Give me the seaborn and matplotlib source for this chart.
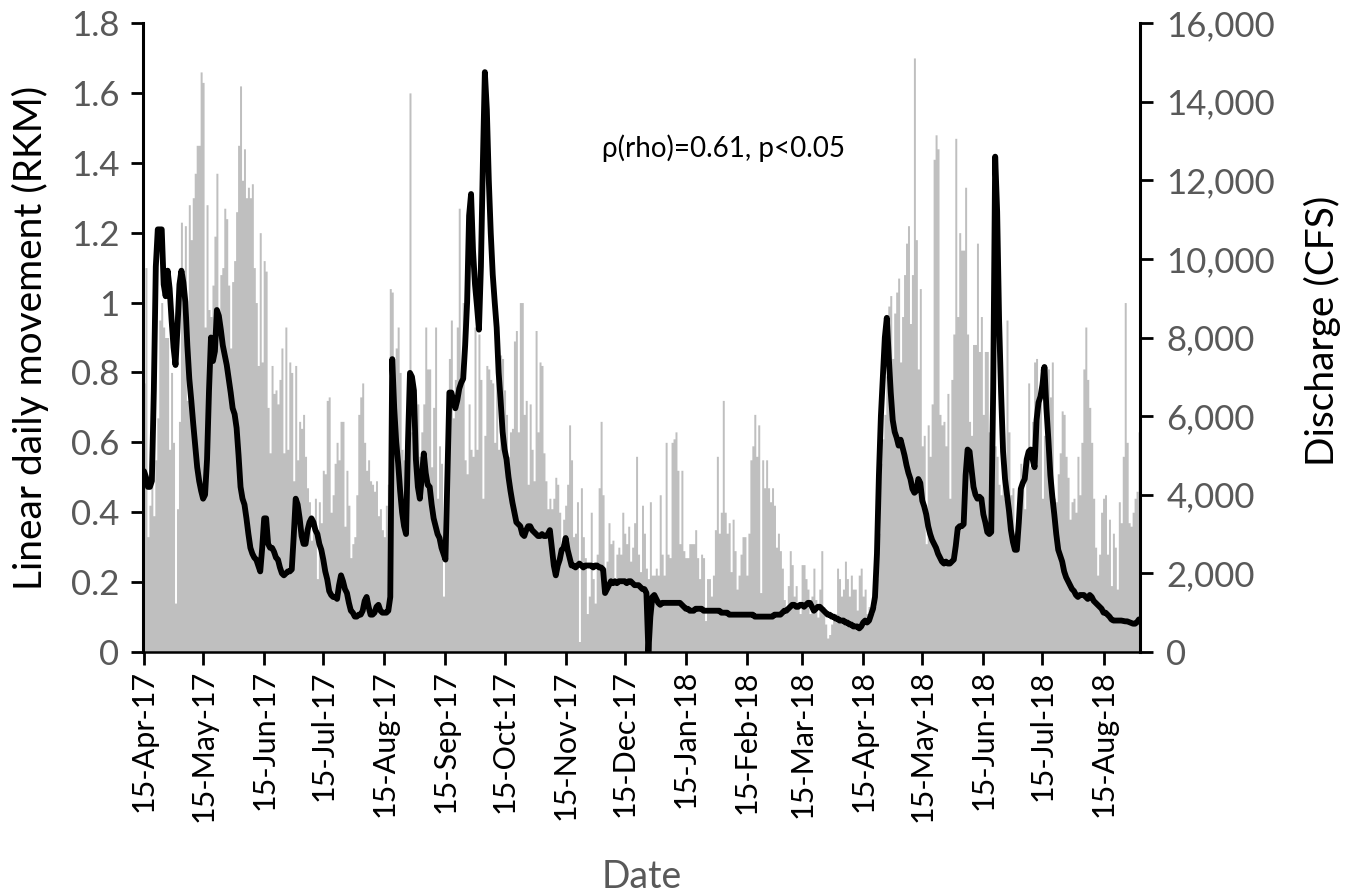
import numpy as np
import pandas as pd
import matplotlib
matplotlib.use("Agg")
import matplotlib.pyplot as plt
import seaborn as sns

START_DATE = "2017-04-15"

# Linear daily movement (RKM), one value per day from 15-Apr-17
movement_a = [0.77, 1.10, 0.33, 0.42, 0.72, 0.39, 0.55, 0.67, 0.95, 1.00,
              0.93, 0.90, 0.90, 0.58, 0.80, 0.60, 0.14, 0.41, 0.66, 1.23,
              1.00, 1.22, 0.72, 1.28, 1.18, 1.30, 1.37, 1.45, 1.45, 1.66,
              1.63, 0.93, 1.28, 0.98, 0.96, 1.05, 1.19, 1.37, 0.94, 1.08,
              1.10, 1.27, 1.24, 1.05, 0.87, 1.06, 1.12, 1.26, 1.45, 1.62,
              1.35, 1.44, 1.30, 1.33, 1.30, 1.34, 1.10, 1.00, 0.82, 1.20,
              0.83, 1.12, 1.09, 0.70, 0.57, 0.82, 0.74, 0.75, 0.71, 0.78,
              0.87, 0.57, 0.93, 0.58, 0.83, 0.80, 0.49, 0.82, 0.55, 0.66,
              0.64, 0.68, 0.56, 0.47, 0.43, 0.32, 0.38, 0.44, 0.21, 0.43,
              0.37, 0.52, 0.51, 0.72, 0.73, 0.40, 0.45, 0.54, 0.60, 0.55,
              0.66, 0.66, 0.36, 0.52, 0.42, 0.27, 0.31, 0.33, 0.45, 0.68,
              0.73, 0.77, 0.60, 0.52, 0.55, 0.49, 0.48, 0.46, 0.49, 0.39,
              0.41, 0.35, 0.33, 0.42, 0.48, 1.04]
movement_b = [1.03, 0.59, 0.87, 0.93, 0.80, 0.58, 0.55, 0.51, 0.46, 1.60,
              0.63, 0.56, 0.63, 0.71, 0.56, 0.63, 0.71, 0.93, 0.81, 0.81,
              0.53, 0.70, 0.93, 0.44, 0.59, 0.54, 0.16, 0.33, 0.65, 0.84,
              0.95, 0.67, 0.78, 0.93, 1.27, 0.78, 1.00, 0.55, 0.51, 0.71,
              0.58, 0.56, 0.93, 0.58, 0.91, 0.78, 0.44, 0.62, 0.82, 0.81,
              0.78, 0.77, 0.60, 0.81, 0.58, 0.85, 0.84, 0.75, 0.68, 0.56,
              0.63, 0.64, 0.89, 0.92, 0.63, 1.00, 1.00, 0.68, 0.72, 0.48,
              0.71, 0.58, 0.49, 0.92, 0.63, 0.83, 0.82, 0.57, 0.49, 0.41,
              0.44, 0.41, 0.44, 0.50, 0.48, 0.40, 0.31, 0.38, 0.42, 0.48,
              0.65, 0.55, 0.33, 0.34, 0.43, 0.03, 0.47, 0.33, 0.27, 0.11,
              0.16, 0.40, 0.21, 0.14, 0.28, 0.47, 0.66, 0.45, 0.24, 0.26,
              0.37, 0.31, 0.32, 0.21, 0.28, 0.30, 0.28, 0.40, 0.34, 0.31,
              0.36, 0.26, 0.30, 0.37, 0.56, 0.28, 0.23, 0.42, 0.34, 0.24]
movement_c = [0.21, 0.43, 0.22, 0.22, 0.24, 0.22, 0.45, 0.28, 0.22, 0.60,
              0.28, 0.27, 0.60, 0.61, 0.63, 0.52, 0.31, 0.52, 0.29, 0.27,
              0.27, 0.31, 0.31, 0.31, 0.35, 0.27, 0.21, 0.28, 0.27, 0.09,
              0.21, 0.21, 0.16, 0.22, 0.35, 0.56, 0.34, 0.40, 0.72, 0.40,
              0.34, 0.37, 0.23, 0.38, 0.29, 0.18, 0.22, 0.28, 0.33, 0.33,
              0.22, 0.34, 0.55, 0.59, 0.68, 0.56, 0.65, 0.17, 0.55, 0.47,
              0.55, 0.47, 0.43, 0.47, 0.42, 0.30, 0.34, 0.29, 0.24, 0.15,
              0.13, 0.19, 0.29, 0.25, 0.16, 0.19, 0.13, 0.11, 0.25, 0.25,
              0.21, 0.18, 0.11, 0.16, 0.24, 0.15, 0.10, 0.18, 0.29, 0.13,
              0.08, 0.04, 0.05, 0.08, 0.10, 0.11, 0.24, 0.21, 0.16, 0.18,
              0.26, 0.21, 0.16, 0.22, 0.18, 0.18, 0.12, 0.22, 0.24, 0.16,
              0.18, 0.11, 0.13, 0.11, 0.11, 0.13, 0.21, 0.34, 0.54, 0.61,
              0.68, 0.79, 0.99, 1.02, 0.84, 0.97, 1.03, 1.07]
movement_d = [0.83, 0.96, 1.08, 1.17, 1.22, 0.94, 1.08, 1.70, 1.18, 0.81,
              1.04, 0.59, 0.62, 0.31, 0.65, 0.56, 0.71, 1.41, 1.48, 1.44,
              0.68, 0.65, 0.66, 0.59, 0.74, 0.44, 0.78, 0.91, 1.47, 0.96,
              1.20, 1.15, 1.15, 1.33, 0.91, 0.66, 0.62, 0.88, 0.88, 1.17,
              0.86, 0.96, 0.68, 0.86, 0.86, 0.63, 0.53, 0.63, 0.59, 0.56,
              0.48, 0.45, 0.49, 0.44, 0.95, 0.63, 0.45, 0.47, 0.34, 0.32,
              0.34, 0.54, 0.47, 0.41, 0.55, 0.77, 0.53, 0.66, 0.83, 0.84,
              0.72, 0.81, 0.44, 0.62, 0.81, 0.81, 0.73, 0.83, 0.44, 0.43,
              0.51, 0.57, 0.69, 0.68, 0.56, 0.50, 0.38, 0.43, 0.44, 0.40,
              0.56, 0.45, 0.60, 0.81, 0.93, 0.78, 0.70, 0.60, 0.44, 0.30,
              0.22, 0.28, 0.40, 0.44, 0.45, 0.28, 0.38, 0.19, 0.34, 0.30,
              0.18, 0.43, 0.37, 0.56, 1.00, 0.60, 0.37, 0.36, 0.40, 0.44,
              0.46, 0.63]

# Discharge (CFS), one value per day from 15-Apr-17
discharge_a = [4600, 4450, 4200, 4200, 4350, 6650, 9800, 10750, 10750, 10750,
               9350, 9050, 9700, 9250, 8450, 7750, 7300, 8250, 9350, 9700,
               9400, 8900, 7800, 6950, 6400, 5800, 5250, 4700, 4350, 4100,
               3900, 4000, 4900, 6650, 8000, 7400, 7650, 8700, 8550, 8200,
               7800, 7550, 7300, 6950, 6600, 6200, 6050, 5700, 5000, 4200,
               3900, 3750, 3400, 3000, 2650, 2500, 2400, 2350, 2200, 2050,
               2650, 3400, 3400, 2750, 2650, 2650, 2550, 2400, 2350, 2150,
               2000, 1950, 2000, 2050, 2050, 2100, 2950, 3900, 3750, 3400,
               2950, 2750, 2750, 3100, 3300, 3400, 3300, 3100, 3000, 2750,
               2600, 2350, 2050, 1850, 1550, 1450, 1400, 1400, 1350, 1700,
               1950, 1800, 1600, 1500, 1250, 1050, 1000, 900, 900, 950,
               950, 1050, 1300, 1400, 1150, 950, 950, 1000, 1150, 1200,
               1050, 1000, 1000, 1000, 1050, 1400]
discharge_b = [7450, 6200, 5350, 4800, 4100, 3550, 3200, 3000, 5350, 7100,
               7000, 6650, 4900, 4200, 3900, 4450, 5050, 4550, 4250, 4200,
               3750, 3400, 3200, 3000, 2900, 2650, 2500, 2350, 4450, 6600,
               6600, 6400, 6200, 6400, 6700, 6850, 6950, 7800, 8900, 11100,
               11650, 10200, 9350, 8800, 8200, 9800, 12450, 14750, 13800, 12000,
               10650, 9600, 8900, 8250, 7100, 6400, 5600, 5150, 4900, 4450,
               4100, 3800, 3550, 3300, 3250, 3200, 3000, 2950, 3100, 3200,
               3200, 3100, 3050, 3000, 2950, 2950, 3000, 2950, 2950, 3000,
               3100, 2650, 2200, 1950, 2200, 2350, 2600, 2650, 2900, 2600,
               2400, 2200, 2200, 2150, 2200, 2250, 2200, 2150, 2200, 2200,
               2200, 2200, 2150, 2200, 2200, 2150, 2150, 2100, 1500, 1600,
               1700, 1800, 1750, 1800, 1750, 1800, 1800, 1800, 1800, 1750,
               1800, 1800, 1750, 1700, 1700, 1700, 1650, 1600, 1600, 1500]
discharge_c = [0, 900, 1400, 1450, 1350, 1250, 1200, 1250, 1250, 1250,
               1250, 1250, 1250, 1250, 1250, 1250, 1250, 1200, 1150, 1100,
               1100, 1050, 1050, 1050, 1100, 1100, 1100, 1100, 1050, 1050,
               1050, 1050, 1050, 1050, 1050, 1050, 1050, 1000, 1000, 1000,
               1000, 950, 950, 950, 950, 950, 950, 950, 950, 950,
               950, 950, 950, 950, 900, 900, 900, 900, 900, 900,
               900, 900, 900, 900, 950, 950, 950, 950, 1000, 1050,
               1050, 1100, 1150, 1200, 1200, 1150, 1150, 1200, 1200, 1150,
               1200, 1250, 1250, 1150, 1050, 1100, 1150, 1150, 1100, 1050,
               1000, 950, 950, 900, 900, 850, 850, 800, 800, 800,
               750, 750, 700, 700, 650, 650, 650, 600, 650, 750,
               800, 750, 800, 950, 1100, 1400, 2500, 4500, 6000, 7000,
               8000, 8500, 7500, 6600, 5900, 5600, 5450, 5250]
discharge_d = [5400, 5200, 5000, 4750, 4550, 4400, 4150, 4050, 4100, 4400,
               4300, 3850, 3700, 3500, 3200, 3000, 2850, 2750, 2650, 2500,
               2400, 2300, 2250, 2300, 2250, 2250, 2300, 2350, 2700, 3150,
               3200, 3200, 3250, 4500, 5150, 5100, 4650, 4200, 4000, 3900,
               3950, 3900, 3500, 3300, 3050, 3000, 3050, 6700, 12600, 11200,
               8400, 6600, 5100, 4400, 4000, 3600, 3100, 2800, 2600, 2600,
               3300, 4150, 4300, 4400, 4900, 5100, 5150, 4900, 4700, 5900,
               6350, 6500, 6800, 7250, 6200, 5400, 4500, 3950, 3500, 3000,
               2600, 2450, 2300, 2050, 1900, 1800, 1700, 1600, 1550, 1450,
               1400, 1450, 1450, 1450, 1400, 1350, 1450, 1400, 1300, 1250,
               1200, 1150, 1100, 1000, 1000, 950, 900, 830, 800, 800,
               800, 800, 800, 790, 780, 780, 760, 740, 720, 720,
               760, 830]

left_ticks = [0, 0.2, 0.4, 0.6, 0.8, 1.0, 1.2, 1.4, 1.6, 1.8]
left_tick_labels = ["0", "0.2", "0.4", "0.6", "0.8", "1", "1.2", "1.4", "1.6", "1.8"]
right_ticks = [0, 2000, 4000, 6000, 8000, 10000, 12000, 14000, 16000]
right_tick_labels = ["0", "2,000", "4,000", "6,000", "8,000", "10,000", "12,000", "14,000", "16,000"]
x_tick_dates = ["2017-04-15", "2017-05-15", "2017-06-15", "2017-07-15", "2017-08-15",
                "2017-09-15", "2017-10-15", "2017-11-15", "2017-12-15", "2018-01-15",
                "2018-02-15", "2018-03-15", "2018-04-15", "2018-05-15", "2018-06-15",
                "2018-07-15", "2018-08-15"]
x_tick_labels = ["15-Apr-17", "15-May-17", "15-Jun-17", "15-Jul-17", "15-Aug-17",
                 "15-Sep-17", "15-Oct-17", "15-Nov-17", "15-Dec-17", "15-Jan-18",
                 "15-Feb-18", "15-Mar-18", "15-Apr-18", "15-May-18", "15-Jun-18",
                 "15-Jul-18", "15-Aug-18"]

movement = movement_a + movement_b + movement_c + movement_d
discharge = discharge_a + discharge_b + discharge_c + discharge_d
n = min(len(movement), len(discharge))
movement = movement[:n]
discharge = discharge[:n]

start = pd.Timestamp(START_DATE)
day = np.arange(n)
df = pd.DataFrame({"day": day, "movement": movement, "discharge": discharge})
tick_pos = [(pd.Timestamp(d) - start).days for d in x_tick_dates]

sns.set_style("white")
plt.rcParams["font.family"] = ["Lato", "DejaVu Sans"]

fig = plt.figure(figsize=(13.51, 8.94), dpi=100)
ax = fig.add_axes([143 / 1351, 1 - 652 / 894, (1140 - 143) / 1351, (652 - 23) / 894])

sns.histplot(data=df, x="day", weights="movement", discrete=True, element="step",
             fill=True, color="#BFBFBF", alpha=1, linewidth=0, ax=ax)
ax.set_xlim(-0.5, n - 0.5)
ax.set_ylim(0, 1.8)

ax2 = ax.twinx()
sns.lineplot(data=df, x="day", y="discharge", color="black", linewidth=4.2, ax=ax2)
for ln in ax2.lines:
    ln.set_solid_joinstyle("round")
    ln.set_solid_capstyle("round")
ax2.set_ylim(0, 16000)
ax2.set_xlim(-0.5, n - 0.5)

grey = "#595959"
ax.set_yticks(left_ticks)
ax.set_yticklabels(left_tick_labels)
ax2.set_yticks(right_ticks)
ax2.set_yticklabels(right_tick_labels)
ax.set_xticks(tick_pos)
ax.set_xticklabels(x_tick_labels, rotation=90)

for a in (ax, ax2):
    a.spines["top"].set_visible(False)
ax.spines["right"].set_visible(False)
ax2.spines["left"].set_visible(False)
ax2.spines["bottom"].set_visible(False)
ax.spines["left"].set_linewidth(2.2)
ax.spines["left"].set_color("black")
ax.spines["bottom"].set_linewidth(1.8)
ax.spines["bottom"].set_color("black")
ax2.spines["right"].set_linewidth(2.2)
ax2.spines["right"].set_color("black")

ax.tick_params(axis="y", direction="out", length=9, width=2, color="black",
               labelsize=25, labelcolor=grey, pad=8, left=True)
ax2.tick_params(axis="y", direction="out", length=9, width=2, color="black",
                labelsize=25, labelcolor=grey, pad=10, right=True)
ax.tick_params(axis="x", direction="out", length=9, width=2, color="black",
               labelsize=22, labelcolor="black", pad=4, bottom=True)

ax.set_xlabel("Date", fontsize=27, color=grey)
ax.xaxis.set_label_coords(0.5, (652 - 877) / 629)
ax.xaxis.label.set_va("center")
ax.set_ylabel("Linear daily movement (RKM)", fontsize=28, color="black")
ax.yaxis.set_label_coords(-0.113, 0.5)
ax.yaxis.label.set_va("center")
ax2.set_ylabel("Discharge (CFS)", fontsize=28, color="black", rotation=90)
ax2.yaxis.set_label_coords(1.183, 0.51)
ax2.yaxis.label.set_va("center")

ax.text(0.582, 0.801, "ρ(rho)=0.61, p<0.05", transform=ax.transAxes,
        ha="center", va="center", fontsize=20, color="black")

fig.savefig("out.png", dpi=100)
